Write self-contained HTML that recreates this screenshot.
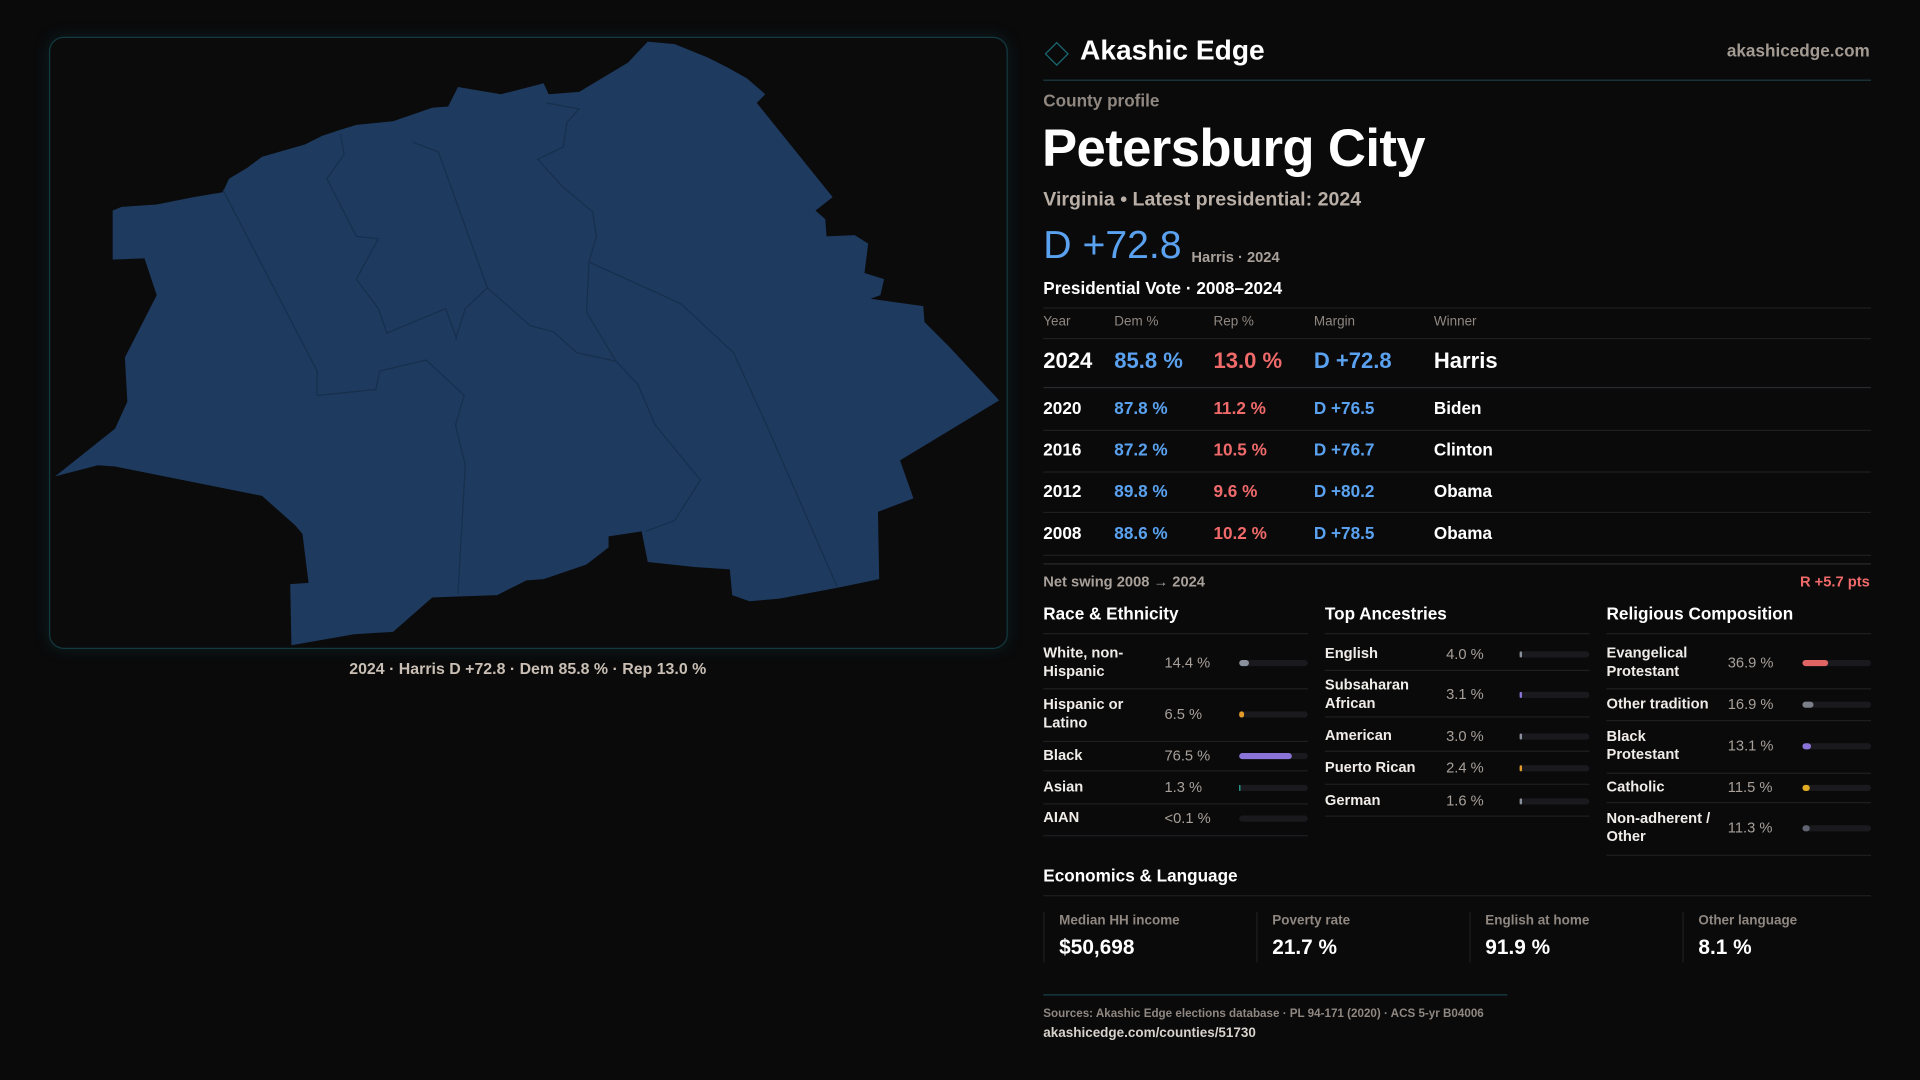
<!DOCTYPE html>
<html><head><meta charset="utf-8"><style>
html,body{margin:0;padding:0;background:#0a0a0b;width:1920px;height:1080px;overflow:hidden}
#w{position:absolute;left:0;top:0;width:1568px;height:882px;transform:scale(1.22449);transform-origin:0 0;font-family:"Liberation Sans",sans-serif;color:#fff}
.a{position:absolute;white-space:nowrap}
.m{transform:translateY(-50%)}
.hl{position:absolute;height:1px;background:#1f1f22}
.g{color:#8f8780}
.b{font-weight:bold}
.bl{color:#5aa2f0}.rd{color:#f06a6a}
.bar{position:absolute;height:5px;border-radius:3px;background:#1a1a1e}
.bar i{position:absolute;left:0;top:0;height:5px;border-radius:3px}
.lab{font-size:12px;font-weight:bold;line-height:15px;color:#f0ece8}
.val{font-size:12px;color:#a8a099}
</style></head><body><div id="w">
<div class="a" style="left:40px;top:30px;width:781px;height:498px;border:1px solid #123a40;border-radius:12px;background:#0b0b0c;box-shadow:0 0 12px rgba(20,90,100,0.25)"></div>
<svg class="a" style="left:0;top:0" width="830" height="540" viewBox="0 0 830 540">
<polygon fill="#1e3a5f" points="45,389 94,350 104,328 102,292 128,241 118,211 92,212 92,172 99,169 128,167 158,161 182,157 187,146 202,137 214,128 249,118 263,111 278,106 291,102 321,99 353,88 366,87 374,71 409,77 444,68 448,77 473,75 513,51 529,34 551,36 578,47 594,55 610,64 625,77 618,84 680,161 666,172 674,179 675,193 698,192 709,199 706,223 722,228 719,241 711,244 754,250 755,263 775,283 816,327 735,376 746,407 717,418 718,473 684,480 636,489 612,491 598,486 596,465 567,463 529,459 524,434 497,438 497,447 479,461 444,473 430,474 406,486 377,487 353,488 321,516 289,518 238,527 237,477 252,476 247,436 241,429 214,405 94,381 80,380"/>
<g fill="none" stroke="#172f4d" stroke-width="1">
<polyline points="182,155 259,303 259,323 307,318 310,303 348,294 374,318 379,323 372,347 380,380 374,485"/>
<polyline points="278,109 281,126 267,146 291,193 309,195 291,228 309,252 316,272 364,252 373,277"/>
<polyline points="337,116 358,124 398,235 433,266 452,271 471,288 503,295 521,314 535,347 572,392 551,425 527,434"/>
<polyline points="398,235 380,252 372,277"/>
<polyline points="446,84 473,89 463,100 460,120 439,130 460,153 484,173 487,193 481,214 479,255 503,295"/>
<polyline points="481,214 556,248 599,288 626,347 684,480"/>
</g></svg>
<div class="a m" style="left:0;width:862px;text-align:center;top:546px;font-size:13px;font-weight:bold;color:#c9bfb4">2024 · Harris D +72.8 · Dem 85.8 % · Rep 13.0 %</div>

<div class="a" style="left:856px;top:37px;width:12px;height:12px;border:1.5px solid #1a6b74;transform:rotate(45deg)"></div>
<div class="a m b" style="left:882px;top:41px;font-size:23px">Akashic Edge</div>
<div class="a m b" style="right:41px;top:41px;font-size:14px;color:#a39a92">akashicedge.com</div>
<div class="hl" style="left:852px;width:676px;top:65px;background:#1b3d42"></div>
<div class="a m b g" style="left:852px;top:82px;font-size:14px">County profile</div>
<div class="a m b" style="left:851px;top:122px;font-size:43px;letter-spacing:-0.5px">Petersburg City</div>
<div class="a m b" style="left:852px;top:164px;font-size:16px;color:#b9afa6">Virginia • Latest presidential: 2024</div>
<div class="a m bl" style="left:852px;top:200px;font-size:32px">D +72.8</div>
<div class="a m b g" style="left:973px;top:210px;font-size:12px;color:#a8a099">Harris · 2024</div>
<div class="a m b" style="left:852px;top:235px;font-size:14px">Presidential Vote · 2008–2024</div>
<div class="hl" style="left:852px;width:676px;top:251px"></div>
<div class="a m g" style="left:852px;top:263px;font-size:11px">Year</div>
<div class="a m g" style="left:910px;top:263px;font-size:11px">Dem %</div>
<div class="a m g" style="left:991px;top:263px;font-size:11px">Rep %</div>
<div class="a m g" style="left:1073px;top:263px;font-size:11px">Margin</div>
<div class="a m g" style="left:1171px;top:263px;font-size:11px">Winner</div>
<div class="hl" style="left:852px;width:676px;top:276px"></div>
<div class="a m b" style="left:852px;top:295px;font-size:18px">2024</div>
<div class="a m b bl" style="left:910px;top:295px;font-size:18px">85.8 %</div>
<div class="a m b rd" style="left:991px;top:295px;font-size:18px">13.0 %</div>
<div class="a m b bl" style="left:1073px;top:295px;font-size:18px">D +72.8</div>
<div class="a m b" style="left:1171px;top:295px;font-size:18px">Harris</div>
<div class="hl" style="left:852px;width:676px;top:316px;background:#2a2a2e"></div>

<div class="a m b" style="left:852px;top:333px;font-size:14px">2020</div><div class="a m b bl" style="left:910px;top:333px;font-size:14px">87.8 %</div><div class="a m b rd" style="left:991px;top:333px;font-size:14px">11.2 %</div><div class="a m b bl" style="left:1073px;top:333px;font-size:14px">D +76.5</div><div class="a m b" style="left:1171px;top:333px;font-size:14px">Biden</div>
<div class="hl" style="left:852px;width:676px;top:351px"></div>
<div class="a m b" style="left:852px;top:367px;font-size:14px">2016</div><div class="a m b bl" style="left:910px;top:367px;font-size:14px">87.2 %</div><div class="a m b rd" style="left:991px;top:367px;font-size:14px">10.5 %</div><div class="a m b bl" style="left:1073px;top:367px;font-size:14px">D +76.7</div><div class="a m b" style="left:1171px;top:367px;font-size:14px">Clinton</div>
<div class="hl" style="left:852px;width:676px;top:385px"></div>
<div class="a m b" style="left:852px;top:401px;font-size:14px">2012</div><div class="a m b bl" style="left:910px;top:401px;font-size:14px">89.8 %</div><div class="a m b rd" style="left:991px;top:401px;font-size:14px">9.6 %</div><div class="a m b bl" style="left:1073px;top:401px;font-size:14px">D +80.2</div><div class="a m b" style="left:1171px;top:401px;font-size:14px">Obama</div>
<div class="hl" style="left:852px;width:676px;top:418px"></div>
<div class="a m b" style="left:852px;top:435px;font-size:14px">2008</div><div class="a m b bl" style="left:910px;top:435px;font-size:14px">88.6 %</div><div class="a m b rd" style="left:991px;top:435px;font-size:14px">10.2 %</div><div class="a m b bl" style="left:1073px;top:435px;font-size:14px">D +78.5</div><div class="a m b" style="left:1171px;top:435px;font-size:14px">Obama</div>
<div class="hl" style="left:852px;width:676px;top:453px"></div>
<div class="hl" style="left:852px;width:676px;top:460px;background:#2a2a2e"></div>
<div class="a m b g" style="left:852px;top:475px;font-size:12px;color:#a8a099">Net swing 2008 → 2024</div>
<div class="a m b rd" style="right:41px;top:475px;font-size:12px">R +5.7 pts</div>

<div class="a m b" style="left:852px;top:501px;font-size:14px">Race &amp; Ethnicity</div>
<div class="a m b" style="left:1082px;top:501px;font-size:14px">Top Ancestries</div>
<div class="a m b" style="left:1312px;top:501px;font-size:14px">Religious Composition</div>
<div class="hl" style="left:852px;width:216px;top:517px"></div>
<div class="hl" style="left:1082px;width:216px;top:517px"></div>
<div class="hl" style="left:1312px;width:216px;top:517px"></div>

<div class="a m lab" style="left:852px;top:541px">White, non-<br>Hispanic</div><div class="a m val" style="left:951px;top:541px">14.4 %</div><div class="bar" style="left:1012px;top:539px;width:56px"><i style="width:8px;background:#8a909c"></i></div>
<div class="hl" style="left:852px;width:216px;top:562px"></div>
<div class="a m lab" style="left:852px;top:583px">Hispanic or<br>Latino</div><div class="a m val" style="left:951px;top:583px">6.5 %</div><div class="bar" style="left:1012px;top:581px;width:56px"><i style="width:4px;background:#e39b2a"></i></div>
<div class="hl" style="left:852px;width:216px;top:605px"></div>
<div class="a m lab" style="left:852px;top:617px">Black</div><div class="a m val" style="left:951px;top:617px">76.5 %</div><div class="bar" style="left:1012px;top:615px;width:56px"><i style="width:43px;background:#8b74d8"></i></div>
<div class="hl" style="left:852px;width:216px;top:629px"></div>
<div class="a m lab" style="left:852px;top:643px">Asian</div><div class="a m val" style="left:951px;top:643px">1.3 %</div><div class="bar" style="left:1012px;top:641px;width:56px"><i style="width:1px;background:#2bb3a0"></i></div>
<div class="hl" style="left:852px;width:216px;top:656px"></div>
<div class="a m lab" style="left:852px;top:668px">AIAN</div><div class="a m val" style="left:951px;top:668px">&lt;0.1 %</div><div class="bar" style="left:1012px;top:666px;width:56px"></div>
<div class="hl" style="left:852px;width:216px;top:682px"></div>

<div class="a m lab" style="left:1082px;top:534px">English</div><div class="a m val" style="left:1181px;top:534px">4.0 %</div><div class="bar" style="left:1241px;top:532px;width:57px"><i style="width:1.5px;background:#8a909c"></i></div>
<div class="hl" style="left:1082px;width:216px;top:547px"></div>
<div class="a m lab" style="left:1082px;top:567px">Subsaharan<br>African</div><div class="a m val" style="left:1181px;top:567px">3.1 %</div><div class="bar" style="left:1241px;top:565px;width:57px"><i style="width:1.5px;background:#8b74d8"></i></div>
<div class="hl" style="left:1082px;width:216px;top:585px"></div>
<div class="a m lab" style="left:1082px;top:601px">American</div><div class="a m val" style="left:1181px;top:601px">3.0 %</div><div class="bar" style="left:1241px;top:599px;width:57px"><i style="width:1.5px;background:#8a909c"></i></div>
<div class="hl" style="left:1082px;width:216px;top:613px"></div>
<div class="a m lab" style="left:1082px;top:627px">Puerto Rican</div><div class="a m val" style="left:1181px;top:627px">2.4 %</div><div class="bar" style="left:1241px;top:625px;width:57px"><i style="width:1.5px;background:#e39b2a"></i></div>
<div class="hl" style="left:1082px;width:216px;top:640px"></div>
<div class="a m lab" style="left:1082px;top:654px">German</div><div class="a m val" style="left:1181px;top:654px">1.6 %</div><div class="bar" style="left:1241px;top:652px;width:57px"><i style="width:1.5px;background:#8a909c"></i></div>
<div class="hl" style="left:1082px;width:216px;top:666px"></div>

<div class="a m lab" style="left:1312px;top:541px">Evangelical<br>Protestant</div><div class="a m val" style="left:1411px;top:541px">36.9 %</div><div class="bar" style="left:1472px;top:539px;width:56px"><i style="width:21px;background:#e06464"></i></div>
<div class="hl" style="left:1312px;width:216px;top:562px"></div>
<div class="a m lab" style="left:1312px;top:575px">Other tradition</div><div class="a m val" style="left:1411px;top:575px">16.9 %</div><div class="bar" style="left:1472px;top:573px;width:56px"><i style="width:9px;background:#7a7f8a"></i></div>
<div class="hl" style="left:1312px;width:216px;top:588px"></div>
<div class="a m lab" style="left:1312px;top:609px">Black<br>Protestant</div><div class="a m val" style="left:1411px;top:609px">13.1 %</div><div class="bar" style="left:1472px;top:607px;width:56px"><i style="width:7px;background:#8b74d8"></i></div>
<div class="hl" style="left:1312px;width:216px;top:631px"></div>
<div class="a m lab" style="left:1312px;top:643px">Catholic</div><div class="a m val" style="left:1411px;top:643px">11.5 %</div><div class="bar" style="left:1472px;top:641px;width:56px"><i style="width:6px;background:#e0aa22"></i></div>
<div class="hl" style="left:1312px;width:216px;top:655px"></div>
<div class="a m lab" style="left:1312px;top:676px">Non-adherent /<br>Other</div><div class="a m val" style="left:1411px;top:676px">11.3 %</div><div class="bar" style="left:1472px;top:674px;width:56px"><i style="width:6px;background:#5f6470"></i></div>
<div class="hl" style="left:1312px;width:216px;top:698px"></div>

<div class="a m b" style="left:852px;top:715px;font-size:14px">Economics &amp; Language</div>
<div class="hl" style="left:852px;width:676px;top:731px"></div>
<div class="a" style="left:852px;top:745px;width:1px;height:41px;background:#1f1f22"></div>
<div class="a" style="left:1026px;top:745px;width:1px;height:41px;background:#1f1f22"></div>
<div class="a" style="left:1200px;top:745px;width:1px;height:41px;background:#1f1f22"></div>
<div class="a" style="left:1374px;top:745px;width:1px;height:41px;background:#1f1f22"></div>
<div class="a m b g" style="left:865px;top:752px;font-size:11px">Median HH income</div>
<div class="a m b" style="left:865px;top:774px;font-size:17px">$50,698</div>
<div class="a m b g" style="left:1039px;top:752px;font-size:11px">Poverty rate</div>
<div class="a m b" style="left:1039px;top:774px;font-size:17px">21.7 %</div>
<div class="a m b g" style="left:1213px;top:752px;font-size:11px">English at home</div>
<div class="a m b" style="left:1213px;top:774px;font-size:17px">91.9 %</div>
<div class="a m b g" style="left:1387px;top:752px;font-size:11px">Other language</div>
<div class="a m b" style="left:1387px;top:774px;font-size:17px">8.1 %</div>
<div class="hl" style="left:852px;width:379px;top:812px;background:#16434a"></div>
<div class="a m b g" style="left:852px;top:828px;font-size:9.5px">Sources: Akashic Edge elections database · PL 94-171 (2020) · ACS 5-yr B04006</div>
<div class="a m b" style="left:852px;top:844px;font-size:11px;color:#d8d2cc">akashicedge.com/counties/51730</div>
</div></body></html>
